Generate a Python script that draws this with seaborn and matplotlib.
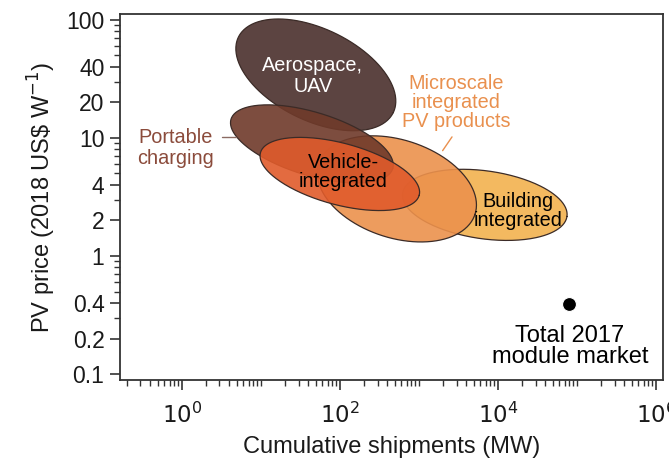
import numpy as np
import seaborn as sns
import matplotlib
matplotlib.use("Agg")
import matplotlib.pyplot as plt
from matplotlib.ticker import FixedLocator, NullFormatter

sns.set_style("ticks")
plt.rcParams["font.family"] = ["Liberation Sans", "DejaVu Sans"]

# Market segments: centre (MW, US$/W), semi-axes in decades of shipments, tilt (deg)
segments = ["Building", "Microscale", "Aerospace", "Portable", "Vehicle"]
centre_mw = [6840, 527, 49.7, 44.3, 100]
centre_price = [2.71, 3.7, 34.2, 8.9, 4.95]
semi_major = [1.05, 1.04, 1.09, 1.07, 1.04]
semi_minor = [0.43, 0.62, 0.58, 0.40, 0.39]
tilt = [-8, -18, -26, -17, -15]
colours = ["#f2b24f", "#ec914c", "#4a302c", "#6f3a2a", "#e05b2b"]

market_mw = [7.9e4]
market_price = [0.39]

x_labelled = [1, 1e2, 1e4, 1e6]
x_labels = ["$10^0$", "$10^2$", "$10^4$", "$10^6$"]
y_ticks = [0.1, 0.2, 0.4, 1, 2, 4, 10, 20, 40, 100]
y_labels = ["0.1", "0.2", "0.4", "1", "2", "4", "10", "20", "40", "100"]

fig = plt.figure(figsize=(6.69, 4.68), dpi=100)
ax = fig.add_axes([0.179, 0.188, 0.812, 0.782])
ax.set_xscale("log")
ax.set_yscale("log")
xlim = (0.164, 1.23e6)
ylim = (0.089, 112)
ax.set_xlim(*xlim)
ax.set_ylim(*ylim)

# ratio of pixels per decade, x versus y, so ellipses keep their shape
bbox = ax.get_position()
wpx = bbox.width * fig.get_figwidth()
hpx = bbox.height * fig.get_figheight()
ratio = (wpx / np.log10(xlim[1] / xlim[0])) / (hpx / np.log10(ylim[1] / ylim[0]))

t = np.linspace(0, 2 * np.pi, 300)
for i, (cx, cy, a, b, ang, col) in enumerate(zip(centre_mw, centre_price, semi_major, semi_minor, tilt, colours)):
    th = np.radians(ang)
    u = a * np.cos(t)
    v = b * np.sin(t)
    ru = u * np.cos(th) - v * np.sin(th)
    rv = u * np.sin(th) + v * np.cos(th)
    ex = 10 ** (np.log10(cx) + ru)
    ey = 10 ** (np.log10(cy) + rv * ratio)
    z = 2 + i * 0.1
    ax.fill(ex, ey, facecolor=col, edgecolor="none", alpha=0.9, zorder=z)
    ax.plot(ex, ey, color="#3b2b27", lw=0.9, zorder=z + 0.02)

sns.scatterplot(x=market_mw, y=market_price, ax=ax, color="black", s=100, zorder=3, legend=False)

# labels
fs = 14.3
ax.text(45.6, 33.5, "Aerospace,\nUAV", color="white", ha="center", va="center", fontsize=fs, linespacing=1.1, zorder=4)
ax.text(110, 5.1, "Vehicle-\nintegrated", color="black", ha="center", va="center", fontsize=fs, linespacing=1.0, zorder=4)
ax.text(1.8e4, 2.4, "Building\nintegrated", color="black", ha="center", va="center", fontsize=fs, linespacing=1.0, zorder=4)
ax.text(3000, 20, "Microscale\nintegrated\nPV products", color="#e9904e", ha="center", va="center", fontsize=fs, linespacing=1.0, zorder=4)
ax.plot([2630, 2000], [10.2, 7.8], color="#e9904e", lw=1.0, zorder=4)
ax.text(0.84, 8.2, "Portable\ncharging", color="#8b4b3b", ha="center", va="center", fontsize=fs, linespacing=1.15, zorder=4)
ax.plot([3.2, 4.8], [10.2, 10.2], color="#8b6b63", lw=1.0, zorder=4)
ax.text(8.2e4, 0.17, "Total 2017\nmodule market", color="black", ha="center", va="center", fontsize=17, linespacing=0.95, zorder=4)

ax.set_xticks(x_labelled, x_labels, minor=False)
ax.xaxis.set_minor_locator(FixedLocator([m * 10.0 ** k for k in range(-1, 6) for m in range(2, 10)] + [10, 1e3, 1e5]))
ax.xaxis.set_minor_formatter(NullFormatter())
ax.set_yticks(y_ticks, y_labels)
ax.yaxis.set_minor_locator(FixedLocator([m * 10.0 ** k for k in range(-1, 2) for m in (3, 5, 6, 7, 8, 9)]))
ax.yaxis.set_minor_formatter(NullFormatter())

ax.tick_params(which="major", length=7, width=1.2, color="#333333", labelsize=16.5, pad=4, labelcolor="#1a1a1a")
ax.tick_params(which="minor", length=4, width=1.0, color="#333333")
ax.tick_params(axis="x", which="major", pad=9)
for sp in ax.spines.values():
    sp.set_color("#333333")
    sp.set_linewidth(1.3)

ax.set_xlabel("Cumulative shipments (MW)", fontsize=17, labelpad=6, color="#1a1a1a")
ax.set_ylabel(r"PV price (2018 US\$ W$^{-1}$)", fontsize=17, labelpad=6, color="#1a1a1a")

fig.savefig("out.png", dpi=100)
